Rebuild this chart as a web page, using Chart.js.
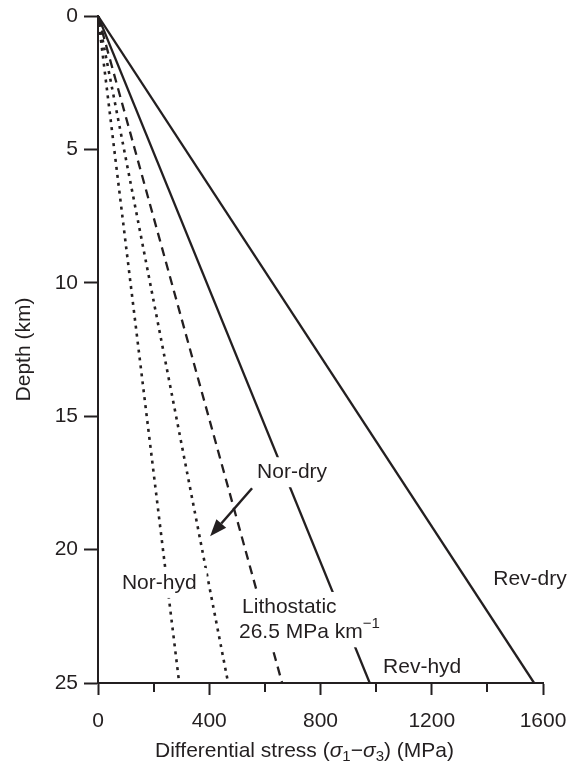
<!DOCTYPE html>
<html>
<head>
<meta charset="utf-8">
<script src="https://cdn.jsdelivr.net/npm/chart.js@4.4.1/dist/chart.umd.min.js"></script>
<style>
  html, body { margin: 0; padding: 0; background: #fff; }
</style>
</head>
<body>
<canvas id="chart" width="574" height="768"></canvas>
<script>
// data: every profile starts at the surface (0 km, 0 MPa)
const depthKm = [0, 25];
const seriesNames = ['Nor-hyd', 'Nor-dry', 'Lithostatic', 'Rev-hyd', 'Rev-dry'];
const stressSurface = [0, 0, 0, 0, 0];
const stressAt25km = [292, 468, 662, 977, 1568];

const xMajorTicks = [0, 400, 800, 1200, 1600];
const xMinorTicks = [200, 600, 1000, 1400];
const yTicks = [0, 5, 10, 15, 20, 25];

// labels placed in data units (stress, depth)
const labelText = ['Nor-hyd', 'Nor-dry', 'Lithostatic', '26.5 MPa km', 'Rev-hyd', 'Rev-dry'];
const labelSup = ['', '', '', '\u22121', '', ''];
const labelStress = [86, 572, 518, 507, 1025, 1421];
const labelDepth = [21.25, 17.1, 22.15, 23.1, 24.4, 21.1];

const arrowFrom = [554, 17.7];
const arrowTo = [403, 19.5];

const xTitleParts = ['Differential stress (', '\u03c3', '1', '\u2212', '\u03c3', '3', ') (MPa)'];
const yTitle = 'Depth (km)';

const FONT = '"Liberation Sans", Arial, Helvetica, sans-serif';
const INK = '#231f20';
const dashes = [[3, 5], [3, 5], [9, 6], [], []];
const widths = [2.6, 2.6, 2.3, 2.3, 2.3];

function segFont(style) {
    if (style === 'sub' || style === 'sup') return '15px ' + FONT;
    if (style === 'italic') return 'italic 21px ' + FONT;
    return '21px ' + FONT;
}

function drawRich(ctx, segs, x, y, align, clear) {
    let w = 0;
    segs.forEach(s => { ctx.font = segFont(s.style); w += ctx.measureText(s.t).width; });
    let cx = align === 'center' ? x - w / 2 : x;
    if (clear) {
        ctx.fillStyle = '#fff';
        ctx.fillRect(cx - 7, y - 15, w + 17, 30);
    }
    ctx.fillStyle = INK;
    ctx.textBaseline = 'middle';
    ctx.textAlign = 'left';
    segs.forEach(s => {
        ctx.font = segFont(s.style);
        const dy = s.style === 'sub' ? 6 : s.style === 'sup' ? -8 : 0;
        ctx.fillText(s.t, cx, y + dy);
        cx += ctx.measureText(s.t).width;
    });
}

const extras = {
    id: 'extras',
    afterDatasetsDraw(chart) {
        const { ctx, chartArea } = chart;
        const x = chart.scales.x, y = chart.scales.y;
        ctx.save();

        // short minor ticks on the stress axis
        ctx.strokeStyle = INK;
        ctx.lineWidth = 2;
        xMinorTicks.forEach(v => {
            const px = Math.round(x.getPixelForValue(v));
            ctx.beginPath();
            ctx.moveTo(px, chartArea.bottom);
            ctx.lineTo(px, chartArea.bottom + 9);
            ctx.stroke();
        });

        // curve labels, white boxes knock out the lines behind them
        labelText.forEach((t, i) => {
            const segs = [{ t: t, style: 'normal' }];
            if (labelSup[i]) segs.push({ t: labelSup[i], style: 'sup' });
            drawRich(ctx, segs, x.getPixelForValue(labelStress[i]), y.getPixelForValue(labelDepth[i]), 'left', true);
        });

        // arrow from Nor-dry label to its curve
        const x0 = x.getPixelForValue(arrowFrom[0]), y0 = y.getPixelForValue(arrowFrom[1]);
        const x1 = x.getPixelForValue(arrowTo[0]), y1 = y.getPixelForValue(arrowTo[1]);
        const ang = Math.atan2(y1 - y0, x1 - x0);
        const headLen = 17, headW = 6.5;
        const bx = x1 - headLen * Math.cos(ang), by = y1 - headLen * Math.sin(ang);
        ctx.strokeStyle = INK;
        ctx.lineWidth = 2.5;
        ctx.beginPath();
        ctx.moveTo(x0, y0);
        ctx.lineTo(bx, by);
        ctx.stroke();
        ctx.fillStyle = INK;
        ctx.beginPath();
        ctx.moveTo(x1, y1);
        ctx.lineTo(bx + headW * Math.sin(ang), by - headW * Math.cos(ang));
        ctx.lineTo(bx - headW * Math.sin(ang), by + headW * Math.cos(ang));
        ctx.closePath();
        ctx.fill();

        // x axis title with italic sigma and subscripts
        const styles = ['normal', 'italic', 'sub', 'normal', 'italic', 'sub', 'normal'];
        const segs = xTitleParts.map((t, i) => ({ t: t, style: styles[i] }));
        drawRich(ctx, segs, (chartArea.left + chartArea.right) / 2 - 16, 751, 'center', false);

        ctx.restore();
    }
};

const datasets = seriesNames.map((name, i) => ({
    label: name,
    data: [
        { x: stressSurface[i], y: depthKm[0] },
        { x: stressAt25km[i], y: depthKm[1] }
    ],
    showLine: true,
    borderColor: INK,
    borderWidth: widths[i],
    borderDash: dashes[i],
    borderCapStyle: 'butt',
    pointRadius: 0,
    fill: false
}));

new Chart(document.getElementById('chart'), {
    type: 'scatter',
    data: { datasets: datasets },
    plugins: [extras],
    options: {
        responsive: false,
        animation: false,
        layout: { padding: { left: 0, right: 31, top: 16, bottom: 0 } },
        plugins: { legend: { display: false }, tooltip: { enabled: false } },
        scales: {
            x: {
                type: 'linear',
                min: 0,
                max: 1600,
                afterFit: s => { s.height = 85; s.paddingLeft = 0; s.paddingRight = 0; },
                afterBuildTicks: s => { s.ticks = xMajorTicks.map(v => ({ value: v })); },
                grid: { drawOnChartArea: false, tickLength: 12, tickWidth: 2, tickColor: INK },
                border: { color: INK, width: 2 },
                ticks: {
                    color: INK,
                    font: { family: FONT, size: 21 },
                    padding: 14,
                    maxRotation: 0,
                    autoSkip: false,
                    callback: v => String(v)
                }
            },
            y: {
                type: 'linear',
                reverse: true,
                min: 0,
                max: 25,
                afterFit: s => { s.width = 98; s.paddingTop = 0; s.paddingBottom = 0; },
                afterBuildTicks: s => { s.ticks = yTicks.map(v => ({ value: v })); },
                grid: { drawOnChartArea: false, tickLength: 14, tickWidth: 2, tickColor: INK },
                border: { color: INK, width: 2 },
                ticks: {
                    color: INK,
                    font: { family: FONT, size: 21 },
                    padding: 6,
                    callback: v => String(v)
                },
                title: {
                    display: true,
                    text: yTitle,
                    color: INK,
                    font: { family: FONT, size: 21 },
                    padding: { top: 12, bottom: 0 }
                }
            }
        }
    }
});
</script>
</body>
</html>
